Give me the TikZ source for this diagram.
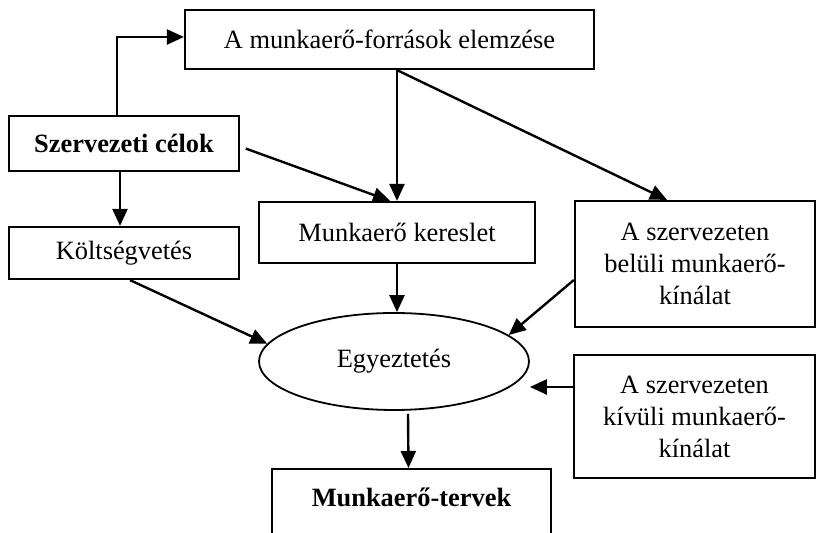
\documentclass[tikz,border=0pt]{standalone}
\usepackage{fontspec}
\setmainfont{Liberation Serif}
\usetikzlibrary{arrows.meta,calc,shapes.geometric}
\begin{document}
\begin{tikzpicture}[x=0.5pt,y=-0.5pt,
  font=\fontsize{13.2}{16}\selectfont,
  box/.style={draw,line width=1.1pt,inner sep=0pt,align=center},
  oval/.style={draw,ellipse,line width=0.9pt,inner sep=0pt,minimum width=135pt,minimum height=48.5pt},
  arr/.style={line width=1.2pt,-{Triangle[length=8.5pt,width=7.5pt]}},
  plain/.style={line width=1.2pt}]
\useasboundingbox (0,0) rectangle (816,533);
\clip (0,0) rectangle (816,533);

% boxes
\node[box,minimum width=204.5pt,minimum height=29.5pt] (top) at (389.5,39.5) {A munkaerő-források elemzése};
\node[box,minimum width=115pt,minimum height=27.5pt,font=\fontsize{13.2}{16}\selectfont\bfseries] (szerv) at (124,143.5) {Szervezeti célok};
\node[box,minimum width=115pt,minimum height=26pt] (kolt) at (124,253) {Költségvetés};
\node[box,minimum width=138pt,minimum height=30.5pt] (keres) at (397,232.5) {Munkaerő kereslet};
\node[box,minimum width=120pt,minimum height=63pt] (belul) at (695,264) {A szervezeten\\belüli munkaerő-\\kínálat};
\node[box,minimum width=120.5pt,minimum height=61.5pt] (kivul) at (694.5,416.5) {A szervezeten\\kívüli munkaerő-\\kínálat};
\node[oval] (egy) at (394,361.5) {\raisebox{3.5pt}{Egyeztetés}};
\node[box,anchor=north,minimum width=139.5pt,inner ysep=9.5pt,text depth=28pt,font=\fontsize{13.2}{16}\selectfont\bfseries] (terv) at (411.5,468) {Munkaerő-tervek};

% connector from the goals box up to the analysis box
\coordinate (s0) at (50,116);
\coordinate (k0) at (117,116);
\coordinate (k1) at (117,37);
\draw[arr] (s0) -- (k0) -- (k1) -- (top.west |- k1);

% arrows
\draw[arr,shorten <=3pt] ($(szerv.east)+(0,3)$) -- ($(keres.north)+(-7,0)$);
\draw[arr] (top.south -| keres.north) -- (keres.north);
\draw[arr] (top.south -| keres.north) -- ($(belul.north)+(-28,0)$);
\draw[arr] ($(szerv.south)+(-4,0)$) -- ($(kolt.north)+(-4,0)$);
\draw[arr] ($(kolt.south)+(6,0)$) -- (egy.172);
\draw[arr] (keres.south) -- (keres.south |- egy.north);
\draw[arr] ($(belul.west)+(0,16)$) -- (egy.13);
\coordinate (kv) at ($(kivul.west)+(0,-29.5)$);
\draw[arr] (kv) -- (egy.east |- kv);
\draw[arr] ($(egy.south)+(14,3)$) -- ($(terv.north)+(-3,0)$);
\end{tikzpicture}
\end{document}
